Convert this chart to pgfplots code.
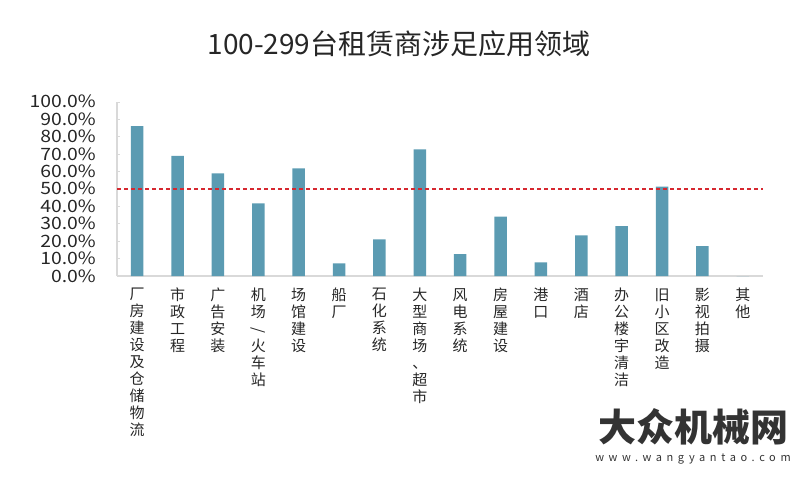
\documentclass[border=0pt]{standalone}
\usepackage{pgfplots}
\pgfplotsset{compat=1.18}
\usepackage{fontspec}
\usepackage{graphicx}
\setmainfont{Noto Sans CJK SC}
\newfontfamily\cjk{Noto Sans CJK SC}
\definecolor{barblue}{RGB}{91,155,178}
\definecolor{reddash}{RGB}{214,40,48}
\definecolor{axgray}{RGB}{217,217,217}
\begin{document}
\begin{tikzpicture}
\useasboundingbox (0,0) rectangle (800pt,479pt);
\node[font=\cjk\fontsize{28}{28}\selectfont, text=black!85] at (399pt,435pt) {100-299台租赁商涉足应用领域};
\begin{axis}[
  at={(117pt,203pt)}, anchor=south west,
  scale only axis, width=646pt, height=174pt,
  xmin=-0.5, xmax=15.5, ymin=0, ymax=100,
  axis lines*=left,
  axis line style={draw=axgray, line width=1.3pt},
  ytick={0,10,...,100},
  ytick pos=left,
  tick align=inside,
  major tick length=3pt,
  tick style={draw=axgray, line width=0.8pt},
  xtick={0,...,15},
  xtick style={draw=none},
  /pgf/number format/assume math mode=true,
  yticklabel={\scalebox{1.14}[1]{\pgfmathprintnumber[fixed,fixed zerofill,precision=1]{\tick}\%}},
  yticklabel style={font=\cjk\fontsize{17}{17}\selectfont, text=black!85, anchor=east, inner sep=0pt, text height=12pt, text depth=0pt, xshift=-21pt},
  xticklabels={
    {厂\\房\\建\\设\\及\\仓\\储\\物\\流},
    {市\\政\\工\\程},
    {广\\告\\安\\装},
    {机\\场\\\rotatebox[origin=c]{-90}{/}\\火\\车\\站},
    {场\\馆\\建\\设},
    {船\\厂},
    {石\\化\\系\\统},
    {大\\型\\商\\场\\、\\超\\市},
    {风\\电\\系\\统},
    {房\\屋\\建\\设},
    {港\\口},
    {酒\\店},
    {办\\公\\楼\\宇\\清\\洁},
    {旧\\小\\区\\改\\造},
    {影\\视\\拍\\摄},
    {其\\他}},
  xticklabel style={font=\cjk\fontsize{15}{17}\selectfont, text=black!85, align=center, anchor=north, inner sep=0pt, yshift=-12pt},
  clip=false,
]
\addplot[ybar, bar width=12.5pt, fill=barblue, draw=none] coordinates {
  (0,86.2) (1,69.0) (2,59.0) (3,41.8) (4,61.9) (5,7.3) (6,21.1) (7,72.8)
  (8,12.6) (9,34.1) (10,7.9) (11,23.4) (12,28.7) (13,51.3) (14,17.2) (15,0)
};
\addplot[reddash, line width=1.1pt, dash pattern=on 4pt off 3pt] coordinates {(-0.5,50) (15.5,50)};
\end{axis}
\node[font=\cjk\bfseries\fontsize{38}{38}\selectfont, text=black!80] at (693pt,52pt) {大众机械网};
\node[font=\cjk\fontsize{11}{11}\selectfont, text=black!80] at (693pt,20pt) {\addfontfeatures{LetterSpace=42}www.wangyantao.com};
\end{tikzpicture}
\end{document}
